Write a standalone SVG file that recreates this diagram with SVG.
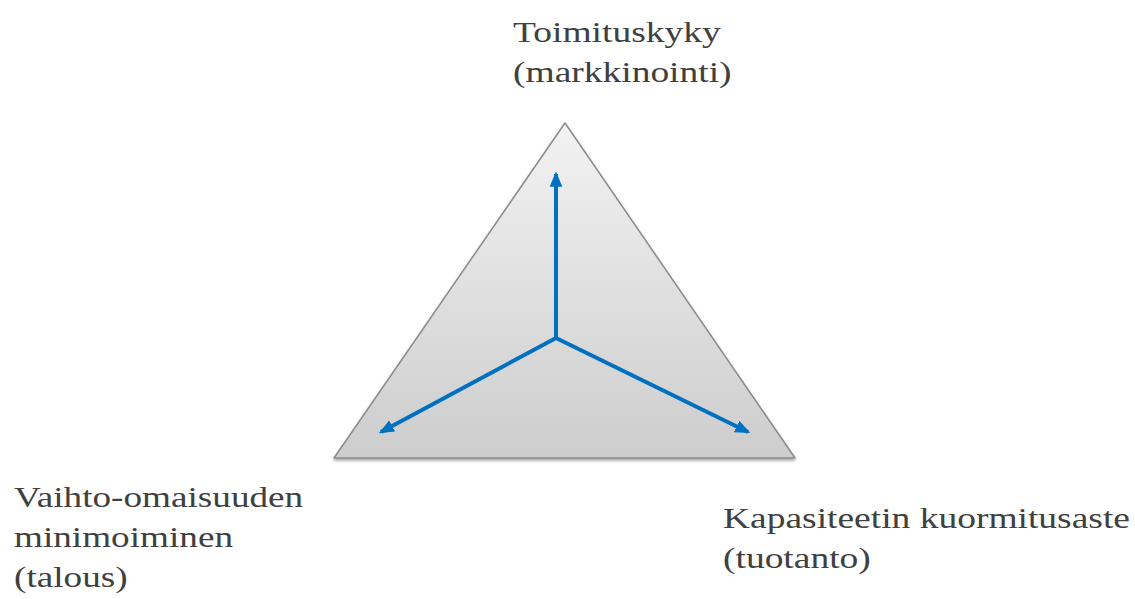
<svg xmlns="http://www.w3.org/2000/svg" width="1135" height="599" viewBox="0 0 1135 599">
  <defs>
    <linearGradient id="triFill" x1="0" y1="0" x2="0" y2="1">
      <stop offset="0" stop-color="#f2f2f2"/>
      <stop offset="1" stop-color="#cdcdcd"/>
    </linearGradient>
    <filter id="shadow" x="-10%" y="-10%" width="120%" height="130%">
      <feDropShadow dx="0" dy="2" stdDeviation="1.5" flood-color="#000" flood-opacity="0.35"/>
    </filter>
    <marker id="arrow" viewBox="0 0 12 10" refX="10" refY="5" markerWidth="3.8" markerHeight="3.3" orient="auto" markerUnits="strokeWidth">
      <path d="M0,0 L12,5 L0,10 z" fill="#0070c0"/>
    </marker>
    <style>
      .label { font-family: "Liberation Serif", "Times New Roman", Times, serif; font-size: 30px; fill: #404040; }
      .axis { stroke: #0070c0; stroke-width: 4; fill: none; marker-end: url(#arrow); }
    </style>
  </defs>

  <g id="triangle">
    <polygon points="565,123 334,458 795,458" fill="url(#triFill)" stroke="#8c8c8c" stroke-width="1.5" stroke-linejoin="round" filter="url(#shadow)"/>
  </g>

  <g id="connectors">
    <line class="axis" x1="556" y1="338" x2="556" y2="174"/>
    <line class="axis" x1="556" y1="338" x2="381" y2="432"/>
    <line class="axis" x1="556" y1="338" x2="748" y2="432"/>
  </g>

  <!-- labels are set in a horizontally widened serif face -->
  <g id="node-toimituskyky" transform="translate(513 0) scale(1.25 1)">
    <text class="label" x="0" y="42">Toimituskyky</text>
    <text class="label" x="0" y="82">(markkinointi)</text>
  </g>

  <g id="node-vaihto-omaisuus" transform="translate(14 0) scale(1.24 1)">
    <text class="label" x="0" y="507">Vaihto-omaisuuden</text>
    <text class="label" x="0" y="547">minimoiminen</text>
    <text class="label" x="0" y="587">(talous)</text>
  </g>

  <g id="node-kapasiteetti" transform="translate(723 0) scale(1.25 1)">
    <text class="label" x="0" y="528">Kapasiteetin kuormitusaste</text>
    <text class="label" x="0" y="568">(tuotanto)</text>
  </g>
</svg>
